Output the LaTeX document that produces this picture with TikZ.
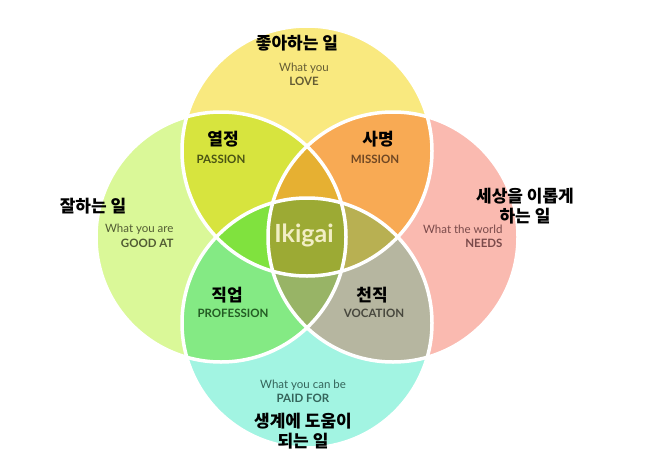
\documentclass[tikz,border=0pt]{standalone}
\usepackage{fontspec}
\setmainfont{Lato}
\newfontfamily\krfont{Noto Sans CJK KR}
\usepackage{tikz}
\usetikzlibrary{positioning}
% region colours
\definecolor{cLove}{RGB}{249,233,127}
\definecolor{cGood}{RGB}{218,248,152}
\definecolor{cNeeds}{RGB}{250,186,176}
\definecolor{cPaid}{RGB}{162,244,226}
\definecolor{cPassion}{RGB}{215,228,62}
\definecolor{cMission}{RGB}{248,170,84}
\definecolor{cProfession}{RGB}{132,234,132}
\definecolor{cVocation}{RGB}{182,182,160}
\definecolor{cTop}{RGB}{230,176,50}
\definecolor{cLeft}{RGB}{128,226,62}
\definecolor{cRight}{RGB}{184,176,82}
\definecolor{cBottom}{RGB}{152,180,102}
\definecolor{cIkigai}{RGB}{156,170,52}
% text colours
\definecolor{tLove}{RGB}{100,92,52}
\definecolor{tPassion}{RGB}{74,84,20}
\definecolor{tMission}{RGB}{112,72,36}
\definecolor{tGood}{RGB}{82,92,52}
\definecolor{tNeeds}{RGB}{122,74,74}
\definecolor{tPaid}{RGB}{52,100,90}
\definecolor{tProfession}{RGB}{36,92,36}
\definecolor{tVocation}{RGB}{72,72,62}
\definecolor{tCenter}{RGB}{242,238,196}
\tikzset{
  kolabel/.style={font=\krfont\bfseries\fontsize{17}{20}\selectfont, align=center, text=black},
  enlabel/.style={font=\fontsize{11.5}{14}\selectfont, align=center},
  capslabel/.style={font=\bfseries\fontsize{11.5}{14}\selectfont},
  rimln/.style={draw=white, line width=3.5pt},
}
% the four circles
\def\cT{(307,151) circle[radius=125pt]}
\def\cL{(221,237) circle[radius=125pt]}
\def\cR{(393,237) circle[radius=125pt]}
\def\cB{(307,323) circle[radius=125pt]}
\begin{document}
\begin{tikzpicture}[x=1pt, y=-1pt]
    \useasboundingbox[fill=white] (0,0) rectangle (645,471);
    % single circles
    \fill[cLove] \cT;
    \fill[cGood] \cL;
    \fill[cNeeds] \cR;
    \fill[cPaid] \cB;
    % pairs
    \begin{scope}\clip \cT; \fill[cPassion] \cL; \fill[cMission] \cR; \end{scope}
    \begin{scope}\clip \cB; \fill[cProfession] \cL; \fill[cVocation] \cR; \end{scope}
    % triples
    \begin{scope}\clip \cT; \clip \cL; \fill[cTop] \cR; \fill[cLeft] \cB; \end{scope}
    \begin{scope}\clip \cB; \clip \cR; \fill[cRight] \cT; \fill[cBottom] \cL; \end{scope}
    % all four
    \begin{scope}\clip \cT; \clip \cL; \clip \cR; \fill[cIkigai] \cB; \end{scope}
    % white rims
    \foreach \c in {\cT,\cL,\cR,\cB} \draw[rimln] \c;
    % top: love
    \node[kolabel] (koLove) at (297,43) {좋아하는 일};
    \node[enlabel, text=tLove] (enLove) at (304,68) {What you};
    \node[capslabel, text=tLove] (capLove) at (304,81) {LOVE};
    % left: good at
    \node[kolabel] (koGood) at (93,206) {잘하는 일};
    \node[enlabel, text=tGood, anchor=east] (enGood) at (177,229) {What you are};
    \node[capslabel, text=tGood, anchor=east] (capGood) at (177,243) {GOOD AT};
    % right: needs
    \node[kolabel] (koNeeds) at (525,206) {세상을 이롭게\\하는 일};
    \node[enlabel, text=tNeeds, anchor=east] (enNeeds) at (506,229) {What the world};
    \node[capslabel, text=tNeeds, anchor=east] (capNeeds) at (506,243) {NEEDS};
    % bottom: paid for
    \node[enlabel, text=tPaid] (enPaid) at (303,385) {What you can be};
    \node[capslabel, text=tPaid] (capPaid) at (303,398) {PAID FOR};
    \node[kolabel] (koPaid) at (303,431) {생계에 도움이\\되는 일};
    % overlaps
    \node[kolabel] (koPassion) at (223,139) {열정};
    \node[capslabel, text=tPassion] (capPassion) at (221,159) {PASSION};
    \node[kolabel] (koMission) at (378,139) {사명};
    \node[capslabel, text=tMission] (capMission) at (375,159) {MISSION};
    \node[kolabel] (koProfession) at (227,295) {직업};
    \node[capslabel, text=tProfession] (capProfession) at (233,313) {PROFESSION};
    \node[kolabel] (koVocation) at (372,295) {천직};
    \node[capslabel, text=tVocation] (capVocation) at (374,313) {VOCATION};
    % centre
    \node[font=\bfseries\fontsize{25}{30}\selectfont, text=tCenter] (ikigai) at (304,235) {Ikigai};
\end{tikzpicture}
\end{document}
